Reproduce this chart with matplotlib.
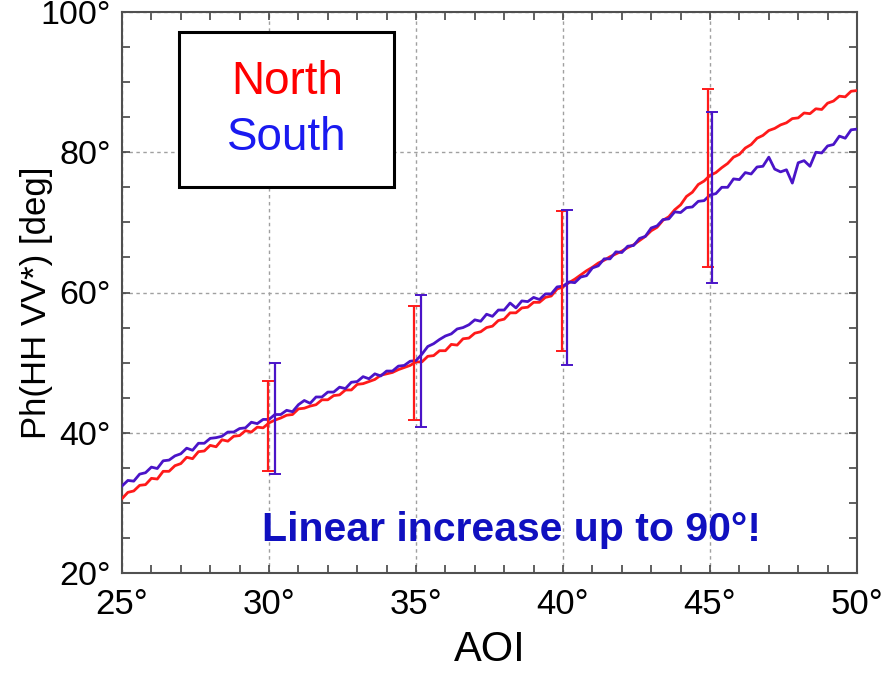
import numpy as np
import matplotlib
matplotlib.use("Agg")
import matplotlib.pyplot as plt
from matplotlib.patches import Rectangle
from matplotlib.ticker import MultipleLocator, FuncFormatter

# ---------------- data ----------------
aoi = np.round(np.arange(25.0, 50.0001, 0.2), 1)

north = [30.6, 31.5, 31.7, 32.5, 32.6, 33.5, 33.4, 34.5, 34.5, 35.3,
         35.6, 36.5, 36.3, 37.3, 37.4, 38.2, 38.0, 39.0, 38.8, 39.5,
         39.6, 40.3, 40.1, 40.8, 40.7, 41.4, 41.8, 42.1, 42.5, 42.6,
         43.4, 43.5, 43.8, 44.0, 44.7, 44.7, 45.3, 45.4, 46.1, 46.1,
         46.9, 47.0, 47.3, 47.6, 48.2, 48.4, 48.6, 49.0, 49.3, 49.6,
         50.1, 50.1, 50.9, 51.0, 51.7, 51.7, 52.6, 52.5, 53.4, 53.5,
         54.2, 54.4, 55.0, 55.2, 56.0, 56.2, 57.1, 57.1, 57.8, 57.9,
         58.6, 58.6, 59.3, 59.5, 60.5, 60.8, 61.4, 61.9, 62.5, 63.1,
         63.6, 64.2, 64.6, 65.1, 65.5, 65.9, 66.4, 66.8, 67.4, 68.0,
         68.8, 69.3, 70.3, 70.8, 71.8, 72.5, 73.7, 74.3, 75.4, 75.9,
         76.7, 77.1, 77.8, 78.4, 79.3, 79.7, 80.6, 81.1, 82.0, 82.4,
         83.1, 83.4, 83.9, 84.2, 84.8, 84.9, 85.6, 85.5, 86.2, 86.1,
         87.0, 87.3, 88.0, 87.9, 88.7, 88.8]

south = [32.4, 33.2, 33.1, 34.1, 34.3, 35.1, 34.9, 36.0, 36.1, 36.7,
         37.0, 37.8, 37.5, 38.5, 38.5, 39.2, 39.3, 39.5, 40.1, 40.1,
         40.6, 40.7, 41.5, 41.3, 41.9, 41.9, 42.6, 42.6, 43.2, 43.0,
         44.0, 44.6, 44.2, 45.1, 45.1, 45.8, 45.8, 46.5, 46.3, 47.2,
         47.3, 48.0, 47.7, 48.4, 48.1, 48.8, 48.8, 49.5, 49.6, 50.2,
         50.3, 51.2, 52.3, 52.7, 53.3, 53.8, 54.1, 54.8, 55.0, 55.4,
         56.1, 55.9, 56.9, 56.6, 57.5, 57.5, 58.5, 57.8, 58.8, 58.7,
         59.3, 59.0, 59.8, 59.8, 60.8, 60.9, 61.5, 61.4, 62.2, 62.4,
         63.5, 63.8, 64.8, 64.8, 65.8, 65.7, 66.6, 66.7, 67.7, 68.0,
         69.2, 69.5, 70.4, 70.5, 71.5, 71.4, 72.1, 72.2, 73.0, 73.1,
         73.9, 74.1, 75.0, 75.0, 76.2, 76.1, 77.1, 76.9, 77.9, 78.0,
         79.3, 77.6, 77.2, 77.5, 75.6, 78.5, 78.8, 78.0, 80.0, 79.9,
         80.9, 81.1, 82.3, 82.0, 83.2, 83.3]

# error bars (x position, lower end, upper end)
north_err_x = [29.95, 34.93, 39.96, 44.94]
north_err_lo = [34.6, 41.8, 51.6, 63.7]
north_err_hi = [47.4, 58.1, 71.6, 89.0]

south_err_x = [30.22, 35.17, 40.13, 45.06]
south_err_lo = [34.1, 40.8, 49.7, 61.4]
south_err_hi = [49.9, 59.7, 71.7, 85.7]

x_ticks = [25, 30, 35, 40, 45, 50]
y_ticks = [20, 40, 60, 80, 100]

RED = "#FF1A1A"
BLUE = "#4A14C8"
FONT = "Liberation Sans"

# ---------------- figure ----------------
fig = plt.figure(figsize=(8.84, 6.74), dpi=100)
ax = fig.add_axes([122 / 884, 1 - 573 / 674, 735 / 884, 561 / 674])

ax.plot(aoi, north, color=RED, lw=2.0, zorder=3)
ax.plot(aoi, south, color=BLUE, lw=2.0, zorder=3)


def draw_err(xs, lo, hi, col):
    xs = np.asarray(xs)
    lo = np.asarray(lo)
    hi = np.asarray(hi)
    mid = (lo + hi) / 2
    ax.errorbar(xs, mid, yerr=[mid - lo, hi - mid], fmt="none", ecolor=col,
                elinewidth=1.6, capsize=4, capthick=1.4, zorder=4)


draw_err(north_err_x, north_err_lo, north_err_hi, RED)
draw_err(south_err_x, south_err_lo, south_err_hi, BLUE)

ax.set_xlim(25, 50)
ax.set_ylim(20, 100)
ax.set_xticks(x_ticks)
ax.set_yticks(y_ticks)
ax.xaxis.set_minor_locator(MultipleLocator(1))
ax.yaxis.set_minor_locator(MultipleLocator(5))
deg = FuncFormatter(lambda v, p: f"{int(v)}°")
ax.xaxis.set_major_formatter(deg)
ax.yaxis.set_major_formatter(deg)

ax.grid(True, which="major", color="#a0a0a0", linestyle=(0, (2.5, 2.5)), lw=1.0, zorder=1)
for s in ax.spines.values():
    s.set_color("#505050")
    s.set_linewidth(1.5)
ax.tick_params(which="both", direction="in", top=True, right=True,
               color="#444444", width=1.2, length=6)
ax.tick_params(axis="x", which="major", pad=11, labelsize=25)
ax.tick_params(axis="y", which="major", pad=8, labelsize=24.5)
for lab in ax.get_xticklabels() + ax.get_yticklabels():
    lab.set_family(FONT)

# legend box
ax.add_patch(Rectangle((57 / 735, (573 - 187) / 561), 215 / 735, 155 / 561,
                       transform=ax.transAxes, facecolor="white",
                       edgecolor="black", lw=2.2, zorder=6))
ax.text(287 / 884, 1 - 82 / 674, "North", transform=fig.transFigure,
        color="#FF0000", fontsize=33, family=FONT,
        ha="center", va="center", zorder=7)
ax.text(287 / 884, 1 - 138 / 674, "South", transform=fig.transFigure,
        color="#1A1AF0", fontsize=33, family=FONT,
        ha="center", va="center", zorder=7)

# annotation
ax.text(511 / 884, 1 - 530 / 674, "Linear increase up to 90°!",
        transform=fig.transFigure, color="#1010C0", fontsize=29.5,
        fontweight="bold", family=FONT,
        ha="center", va="center", zorder=7)

# axis labels
fig.text(37 / 884, 1 - 303 / 674, "Ph(HH VV*) [deg]", rotation=90,
         fontsize=25, family=FONT, ha="center", va="center")
fig.text(490 / 884, 1 - 650 / 674, "AOI", fontsize=30,
         family=FONT, ha="center", va="center")

fig.savefig("out.png", dpi=100)
